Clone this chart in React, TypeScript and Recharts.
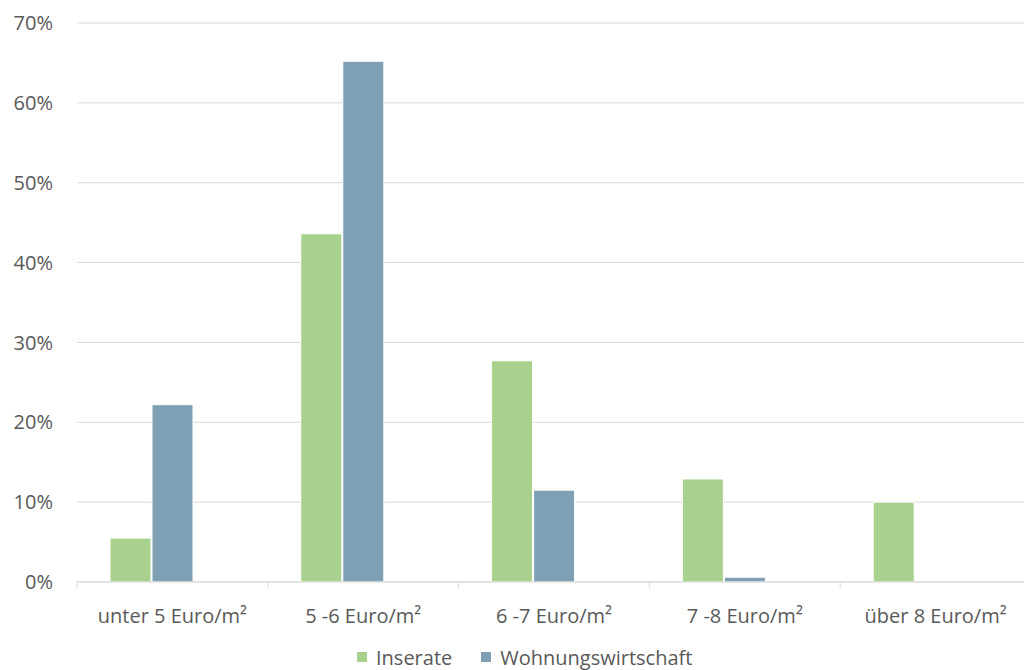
import React from 'react';
import { BarChart, Bar, XAxis, YAxis, CartesianGrid, Legend } from 'recharts';

// Mietpreisklassen (Anteile in %)
const categories = ['unter 5 Euro/m²', '5 -6 Euro/m²', '6 -7 Euro/m²', '7 -8 Euro/m²', 'über 8 Euro/m²'];
const inserate = [5.5, 43.6, 27.7, 12.9, 10.0];
const wohnungswirtschaft = [22.2, 65.2, 11.5, 0.6, 0];
// leere dritte Reihe, hält den Platz rechts in jeder Gruppe frei
const leer = [null, null, null, null, null];
const yTicks = [0, 10, 20, 30, 40, 50, 60, 70];

const GREEN = '#a9d18e';
const BLUE = '#7f9fb5';
const TEXT = '#595959';
const GRID = '#d9d9d9';
const FONT = '"Open Sans", sans-serif';

const CHART_W = 1040;
const CHART_H = 670;
const Y_AXIS_W = 77;
const MARGIN = { top: 23, right: 9, bottom: 0, left: 0 };
const BAND = (CHART_W - MARGIN.left - MARGIN.right - Y_AXIS_W) / categories.length;

const data = categories.map((name, i) => ({
  name,
  inserate: inserate[i],
  wohnungswirtschaft: wohnungswirtschaft[i],
  leer: leer[i],
}));

const CategoryTick = ({ x, y, payload, index }: any) => {
  const left = x - BAND / 2;
  return (
    <g>
      <line x1={left} y1={y} x2={left} y2={y + 6} stroke={GRID} />
      {index === categories.length - 1 && (
        <line x1={left + BAND} y1={y} x2={left + BAND} y2={y + 6} stroke={GRID} />
      )}
      <text x={x} y={y + 41} textAnchor="middle" fill={TEXT} fontSize={20} fontFamily={FONT}>
        {payload.value}
      </text>
    </g>
  );
};

const legendItems = [
  { label: 'Inserate', color: GREEN },
  { label: 'Wohnungswirtschaft', color: BLUE },
];

const LegendContent = () => (
  <div
    style={{
      height: 26,
      display: 'flex',
      alignItems: 'center',
      paddingLeft: 357,
      fontFamily: FONT,
      fontSize: 20,
      color: TEXT,
    }}
  >
    {legendItems.map((item) => (
      <div key={item.label} style={{ display: 'flex', alignItems: 'center', marginRight: 29 }}>
        <span style={{ width: 10, height: 10, background: item.color, marginRight: 9 }} />
        <span>{item.label}</span>
      </div>
    ))}
  </div>
);

export default function App() {
  return (
    <div
      style={{
        position: 'absolute',
        left: 0,
        top: 0,
        width: 1024,
        height: 670,
        overflow: 'hidden',
        background: '#fff',
      }}
    >
      <BarChart
        width={CHART_W}
        height={CHART_H}
        data={data}
        margin={MARGIN}
        barCategoryGap={33}
        barGap={1}
      >
        <CartesianGrid vertical={false} stroke={GRID} />
        <XAxis
          dataKey="name"
          height={62}
          axisLine={{ stroke: GRID }}
          tickLine={false}
          tickSize={0}
          tickMargin={0}
          interval={0}
          tick={<CategoryTick />}
        />
        <YAxis
          width={Y_AXIS_W}
          domain={[0, 70]}
          ticks={yTicks}
          axisLine={false}
          tickLine={false}
          tickSize={0}
          tickMargin={24}
          tickFormatter={(v: number) => `${v}%`}
          tick={{ fill: TEXT, fontSize: 20, fontFamily: FONT }}
        />
        <Legend verticalAlign="bottom" content={<LegendContent />} wrapperStyle={{ bottom: 0, left: 0 }} />
        <Bar dataKey="inserate" name="Inserate" fill={GREEN} stroke="#fff" strokeWidth={1} isAnimationActive={false} />
        <Bar
          dataKey="wohnungswirtschaft"
          name="Wohnungswirtschaft"
          fill={BLUE}
          stroke="#fff"
          strokeWidth={1}
          isAnimationActive={false}
        />
        <Bar dataKey="leer" legendType="none" fill="none" isAnimationActive={false} />
      </BarChart>
    </div>
  );
}
